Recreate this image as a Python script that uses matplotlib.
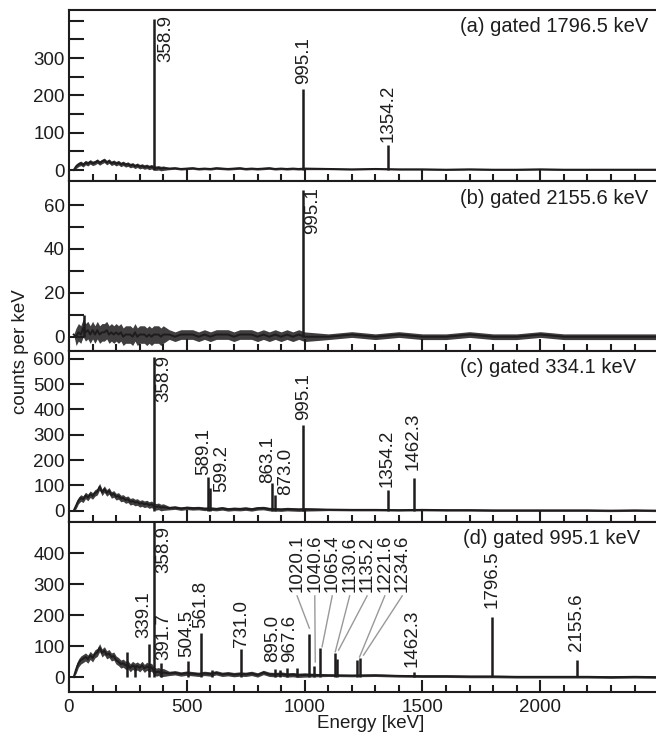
import matplotlib
matplotlib.use('Agg')
import matplotlib.pyplot as plt
import numpy as np

plt.rcParams['font.family'] = ['Liberation Sans', 'DejaVu Sans']
ink = '#1e1c1c'

# background energies (keV) shared by all four spectra, in three segments
seg1 = np.arange(20, 401, 10)
seg2 = np.arange(425, 1001, 25)
seg3 = np.concatenate([np.arange(1100, 2401, 100), [2500]])
bg_e = np.concatenate([seg1, seg2, seg3])
seg_n = [len(seg1), len(seg2), len(seg3)]

bg_a = [0, 10, 15, 18, 14, 20, 17, 22, 18, 20, 24, 19, 23, 26, 20, 24, 18, 21, 17, 20,
        15, 18, 14, 16, 12, 14, 10, 13, 9, 11, 8, 10, 7, 9, 6, 5, 6, 4, 5,
        4, 5, 3, 4, 5, 3, 4, 3, 5, 4, 3, 4, 5, 3, 4, 3, 4, 5, 3, 4, 3, 4, 3, 4,
        3, 2, 3, 2, 2, 1, 2, 1, 1, 2, 1, 1, 1, 1, 1]
bg_b = [1, 0, 2, 1, 4, 2, 3, 1, 3, 1, 3, 1, 2, 2, 3, 1, 2, 1, 2, 1,
        2, 0, 1, 1, 1, 0, 2, 0, 1, 1, 1, 0, 1, 0, 1, 1, 1, 0, 1,
        1, 0, 1, 1, 1, 0, 1, 0, 1, 1, 1, 0, 1, 1, 1, 0, 1, 0, 1, 0, 1, 0, 1, 0,
        0, 1, 0, 1, 0, 0, 1, 0, 0, 1, 0, 0, 0, 0, 0]
bg_c = [0, 20, 40, 50, 45, 60, 52, 65, 58, 70, 75, 95, 72, 85, 70, 78, 62, 66, 55, 58,
        48, 50, 42, 45, 35, 38, 32, 34, 27, 30, 25, 28, 22, 25, 18, 15, 17, 12, 14,
        10, 12, 8, 11, 9, 10, 7, 8, 6, 9, 5, 7, 6, 8, 5, 9, 10, 6, 5, 4, 6, 5, 4, 5,
        4, 3, 3, 2, 3, 2, 2, 1, 1, 1, 1, 1, 0, 1, 0]
bg_d = [0, 25, 45, 55, 60, 65, 58, 70, 62, 75, 80, 95, 78, 85, 72, 76, 65, 68, 55, 50,
        42, 45, 38, 40, 30, 38, 32, 36, 30, 38, 28, 35, 30, 32, 20, 16, 18, 13, 15,
        12, 14, 10, 13, 11, 9, 12, 10, 14, 9, 11, 8, 10, 9, 12, 7, 15, 9, 8, 10, 7, 8, 6, 7,
        6, 5, 6, 4, 3, 3, 2, 2, 1, 1, 1, 1, 0, 1, 0]

# half-width of the noise band in each segment (counts)
noise_a = [6, 3, 2]
noise_b = [4, 2.2, 1.3]
noise_c = [13, 7, 4]
noise_d = [13, 7, 4]

# peaks: energy, height
pk_a_e = [358.9, 995.1, 1354.2]
pk_a_h = [405, 217, 67]
pk_b_e = [62, 995.1]
pk_b_h = [10, 67]
pk_c_e = [358.9, 589.1, 599.2, 863.1, 873.0, 995.1, 1354.2, 1462.3]
pk_c_h = [608, 134, 90, 109, 60, 339, 82, 129]
pk_d_e = [247, 282, 339.1, 358.9, 391.7, 504.5, 561.8, 605, 731.0, 875, 895.0, 927,
          967.6, 1020.1, 1040.6, 1065.4, 1130.6, 1135.2, 1221.6, 1234.6, 1462.3,
          1796.5, 2155.6]
pk_d_h = [82, 40, 106, 520, 45, 53, 143, 22, 90, 25, 22, 30, 28, 139, 36, 93, 78, 60,
          55, 62, 15, 193, 55]

# peak labels: text, x (keV), bottom y (counts)
lab_a = [('358.9', 409, 290), ('995.1', 995, 230), ('1354.2', 1355, 75)]
lab_b = [('995.1', 1033, 47)]
lab_c = [('358.9', 401, 431), ('589.1', 570, 141), ('599.2', 650, 75),
         ('863.1', 841, 110), ('873.0', 918, 62), ('995.1', 996, 358),
         ('1354.2', 1350, 95), ('1462.3', 1461, 161)]
lab_d = [('339.1', 317, 126), ('358.9', 401, 335), ('391.7', 402, 55),
         ('504.5', 501, 65), ('561.8', 558, 158), ('731.0', 730, 98),
         ('895.0', 862, 49), ('967.6', 936, 49), ('1462.3', 1456, 33),
         ('1796.5', 1795, 222), ('2155.6', 2155, 84)]
# crowded labels in (d) with gray leader lines
crowd_txt = ['1020.1', '1040.6', '1065.4', '1130.6', '1135.2', '1221.6', '1234.6']
crowd_x = [968, 1043, 1117, 1191, 1265, 1340, 1414]
crowd_y = 275
lead_x1 = [1020, 1045, 1074, 1130, 1144, 1233, 1250]
lead_y1 = [158, 49, 98, 82, 87, 65, 71]

titles = ['(a) gated 1796.5 keV', '(b) gated 2155.6 keV',
          '(c) gated 334.1 keV', '(d) gated 995.1 keV']
ylims = [(-28, 429), (-6.5, 71.2), (-43, 631), (-48, 502)]
ymaj = [[0, 100, 200, 300], [0, 20, 40, 60], [0, 100, 200, 300, 400, 500, 600],
        [0, 100, 200, 300, 400]]
ymin_ = [[50, 150, 250, 350, 400], [10, 30, 50], [], []]

W, H = 656, 737
fig = plt.figure(figsize=(W / 100, H / 100), dpi=100)

tops = [10, 180.5, 351, 521.5]
ph = 170.5
title_x = [648, 648, 636, 640]
title_y = [27, 198, 367, 538]
data = [(bg_a, noise_a, pk_a_e, pk_a_h, lab_a), (bg_b, noise_b, pk_b_e, pk_b_h, lab_b),
        (bg_c, noise_c, pk_c_e, pk_c_h, lab_c), (bg_d, noise_d, pk_d_e, pk_d_h, lab_d)]

for i in range(4):
    bg, nz, pe, ph_, labs = data[i]
    bg = np.array(bg, float)
    w = np.repeat(nz, seg_n)
    w[0] = 0
    ax = fig.add_axes([69 / W, 1 - (tops[i] + ph) / H, (660 - 69) / W, ph / H])
    ax.fill_between(bg_e, bg - w, bg + w, color=ink, lw=0, alpha=0.85)
    ax.plot(bg_e, bg, color=ink, lw=1.4)
    ax.vlines(pe, 0, ph_, color=ink, lw=1.8)
    for s, x, y in labs:
        ax.text(x, y, s, rotation=90, ha='center', va='bottom', fontsize=13.5, color=ink)
    if i == 3:
        for s, x, x1, y1 in zip(crowd_txt, crowd_x, lead_x1, lead_y1):
            ax.text(x, crowd_y, s, rotation=90, ha='center', va='bottom',
                    fontsize=13.5, color=ink)
            ax.plot([x, x1], [crowd_y - 13, y1], color='0.6', lw=1)
    ax.set_xlim(0, 2508)
    ax.set_ylim(*ylims[i])
    ax.set_xticks([0, 500, 1000, 1500, 2000])
    ax.set_xticks(np.arange(100, 2500, 100), minor=True)
    ax.set_yticks(ymaj[i])
    ax.set_yticks(ymin_[i], minor=True)
    ax.tick_params(which='both', direction='in', top=False, right=False,
                   labelsize=13.5, width=1.5, colors=ink, pad=3)
    ax.tick_params(axis='x', which='major', length=9, pad=5)
    ax.tick_params(axis='x', which='minor', length=5)
    ax.tick_params(axis='y', which='both', length=11)
    if i < 3:
        ax.tick_params(axis='x', labelbottom=False)
    for sp in ax.spines.values():
        sp.set_linewidth(1.5)
        sp.set_color(ink)
    fig.text(title_x[i] / W, 1 - title_y[i] / H, titles[i], ha='right', va='center',
             fontsize=14.5, color=ink)

fig.text(21 / W, 1 - 352 / H, 'counts per keV', rotation=90, ha='center', va='center',
         fontsize=13.5, color=ink)
fig.text(371 / W, 1 - 723 / H, 'Energy [keV]', ha='center', va='center',
         fontsize=13.5, color=ink)

fig.savefig('out.png', dpi=100)
